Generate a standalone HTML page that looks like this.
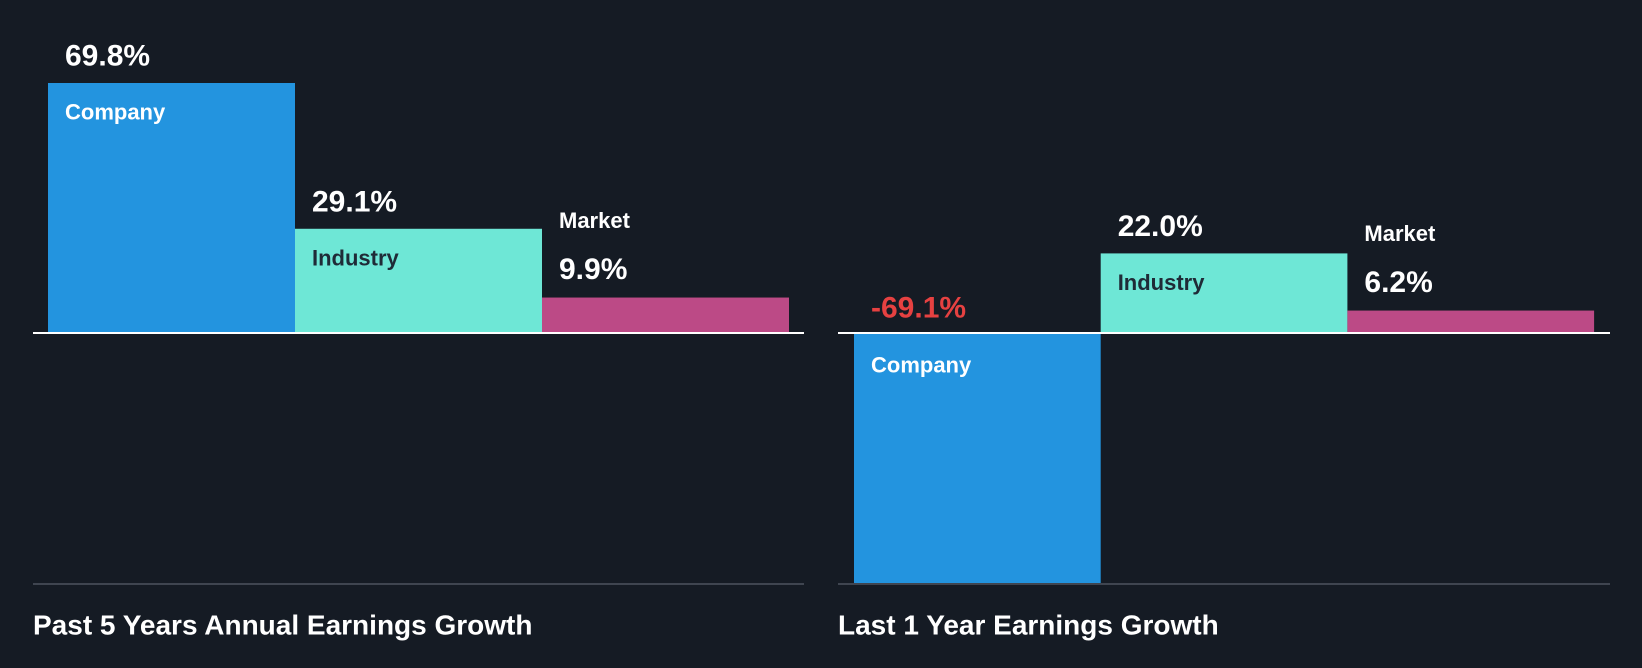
<!DOCTYPE html>
<html><head><meta charset="utf-8"><style>
html,body{margin:0;padding:0;background:#151b24;}
svg{display:block;font-family:"Liberation Sans",Arial,sans-serif;font-weight:bold;}
</style></head><body>
<svg id="chart" width="1642" height="668" viewBox="0 0 1642 668">
<rect width="1642" height="668" fill="#151b24"/>
</svg>
<script>
const categories = ["Company", "Industry", "Market"];
const panelTitles = ["Past 5 Years Annual Earnings Growth", "Last 1 Year Earnings Growth"];
const past5Values = [69.8, 29.1, 9.9];
const last1Values = [-69.1, 22.0, 6.2];
const colors = ["#2394df", "#6ee7d6", "#bc4a86"];
const nameColors = ["#ffffff", "#1f2b37", "#ffffff"];

const svg = document.getElementById('chart');
const NS = 'http://www.w3.org/2000/svg';
function mk(tag, attrs, text) {
  const e = document.createElementNS(NS, tag);
  for (const k in attrs) e.setAttribute(k, attrs[k]);
  if (text !== undefined) e.textContent = text;
  svg.appendChild(e);
  return e;
}
const zeroY = 333, bottomY = 584, maxH = 250;
const panels = [
  {x0: 33, x1: 804, barX: 48, barW: 247, values: past5Values, title: panelTitles[0], key: 'past-5-years'},
  {x0: 838, x1: 1610, barX: 854, barW: 246.7, values: last1Values, title: panelTitles[1], key: 'last-1-year'}
];
panels.forEach(p => {
  const maxAbs = Math.max(...p.values.map(Math.abs));
  const yScale = v => zeroY - v / maxAbs * maxH;
  p.values.forEach((v, i) => {
    const x = p.barX + i * p.barW;
    const y = yScale(v);
    const top = Math.min(y, zeroY), h = Math.abs(y - zeroY);
    const bar = mk('rect', {x: x, y: top, width: p.barW, height: h, fill: colors[i]});
    
    
    const tx = x + 17;
    const valStr = v.toFixed(1) + '%';
    let valY, nameY, nameFill = nameColors[i];
    if (v < 0) { valY = zeroY - 25; nameY = zeroY + 32; }
    else if (h > 60) { valY = top - 27; nameY = top + 29; }
    else { nameY = top - 77; valY = top - 28; nameFill = '#ffffff'; }
    const vt = mk('text', {x: tx, y: valY, 'font-size': 30, fill: v < 0 ? '#e64141' : '#ffffff', 'dominant-baseline': 'central'}, valStr);
    
    
    const nt = mk('text', {x: tx, y: nameY, 'font-size': 22, fill: nameFill, 'dominant-baseline': 'central'}, categories[i]);
    
    
  });
  const zl = mk('line', {x1: p.x0, x2: p.x1, y1: zeroY, y2: zeroY, stroke: '#ffffff', 'stroke-width': 2});
  
  
  const bl = mk('line', {x1: p.x0, x2: p.x1, y1: bottomY, y2: bottomY, stroke: '#3f4550', 'stroke-width': 2});
  
  
  const t = mk('text', {x: p.x0, y: 625, 'font-size': 28, fill: '#ffffff', 'dominant-baseline': 'central'}, p.title);
  
  
});
</script>
</body></html>
